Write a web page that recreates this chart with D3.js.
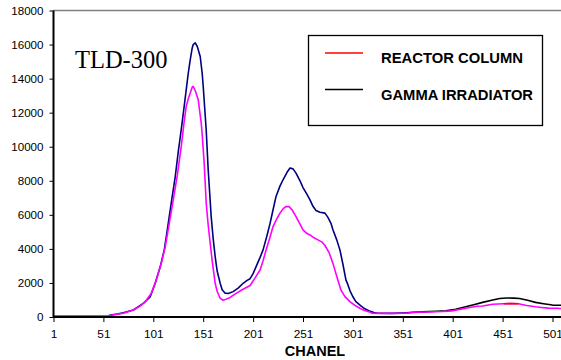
<!DOCTYPE html>
<html>
<head>
  <meta charset="utf-8">
  <script src="https://d3js.org/d3.v7.min.js"></script>
  <style>
    body { margin: 0; background: #fff; }
    svg { display: block; }
    .tick text { font-family: "Liberation Sans", Arial, sans-serif; fill: #000; }
  </style>
</head>
<body>
  <div id="chart"></div>
<script>

  // values (channel -> counts)
  var gammaChannels = [1, 56, 58, 65, 71, 81, 91, 98, 103, 108, 112, 115, 119, 123, 126, 129, 132, 134, 136, 138, 140, 141, 143, 145, 148, 150, 151, 154, 156, 159, 161, 163, 165, 168, 170, 173, 176, 178, 181, 186, 191, 195, 198, 201, 204, 208, 211, 215, 218, 221, 224, 228, 231, 235, 238, 241, 244, 248, 251, 255, 258, 261, 264, 268, 273, 276, 279, 281, 285, 288, 291, 294, 296, 298, 301, 304, 309, 313, 317, 322, 326, 340, 355, 361, 370, 385, 394, 404, 414, 422, 431, 440, 448, 455, 462, 468, 476, 484, 492, 501, 510];
  var gammaCounts = [60, 60, 120, 180, 250, 410, 800, 1200, 2000, 2960, 3940, 5100, 6700, 8250, 9700, 11000, 12400, 13350, 14300, 15100, 15800, 16000, 16100, 15900, 15300, 14300, 13550, 11000, 8650, 5900, 4600, 3550, 2700, 1980, 1600, 1400, 1380, 1420, 1490, 1700, 1980, 2150, 2250, 2550, 2960, 3500, 3940, 4800, 5500, 6300, 7080, 7700, 8060, 8500, 8750, 8700, 8450, 8000, 7600, 7200, 6880, 6500, 6250, 6150, 6100, 5850, 5500, 5120, 4500, 3940, 3100, 2180, 1900, 1550, 1190, 900, 650, 480, 370, 260, 220, 210, 240, 280, 300, 340, 370, 460, 600, 720, 860, 980, 1090, 1120, 1110, 1090, 980, 860, 780, 700, 690];

  var reactorChannels = [1, 56, 60, 65, 71, 81, 88, 93, 99, 104, 109, 113, 117, 121, 125, 129, 132, 134, 136, 138, 140, 141, 143, 146, 149, 150, 152, 154, 156, 158, 160, 163, 165, 168, 171, 174, 178, 184, 190, 198, 203, 208, 211, 214, 218, 221, 225, 228, 231, 234, 237, 240, 244, 248, 251, 255, 258, 262, 266, 270, 273, 277, 281, 285, 289, 293, 298, 303, 308, 312, 317, 320, 330, 355, 361, 375, 391, 400, 414, 425, 431, 441, 452, 460, 467, 475, 484, 490, 497, 505, 510];
  var reactorCounts = [60, 60, 110, 160, 220, 410, 650, 900, 1390, 2180, 3160, 4140, 5500, 6880, 8300, 10000, 11500, 12370, 12800, 13160, 13500, 13550, 13300, 12760, 11400, 10700, 9040, 6690, 5400, 4340, 3300, 1980, 1500, 1100, 980, 1050, 1150, 1390, 1600, 1850, 2300, 2760, 3300, 3940, 4700, 5310, 5800, 6100, 6350, 6490, 6480, 6300, 5900, 5450, 5120, 4900, 4820, 4650, 4530, 4400, 4200, 3800, 3150, 2350, 1590, 1200, 900, 680, 510, 400, 310, 230, 210, 220, 270, 290, 320, 360, 510, 630, 650, 750, 780, 790, 780, 680, 600, 560, 520, 510, 500];

  var xTickLabels = [1, 51, 101, 151, 201, 251, 301, 351, 401, 451, 501];
  var yTicks = [0, 2000, 4000, 6000, 8000, 10000, 12000, 14000, 16000, 18000];
  var seriesNames = ["REACTOR COLUMN", "GAMMA IRRADIATOR"];

  var gamma = gammaChannels.map(function(c, i) { return { c: c, v: gammaCounts[i] }; });
  var reactor = reactorChannels.map(function(c, i) { return { c: c, v: reactorCounts[i] }; });

  var W = 561, H = 360;
  var svg = d3.select("#chart").append("svg")
      .attr("width", W).attr("height", H);

  var x = d3.scaleLinear().domain([1, 501]).range([53.5, 552.5]);
  var y = d3.scaleLinear().domain([0, 18000]).range([317, 10.5]);

  svg.append("clipPath").attr("id", "plot")
    .append("rect").attr("x", 53).attr("y", 0).attr("width", W - 53).attr("height", 318);

  // top border of plot area
  svg.append("line")
      .attr("x1", x(1)).attr("x2", W)
      .attr("y1", y(18000)).attr("y2", y(18000))
      .attr("stroke", "#808080").attr("stroke-width", 1.5);

  var line = d3.line()
      .x(function(d) { return x(d.c); })
      .y(function(d) { return y(d.v); });

  var lines = svg.append("g").attr("clip-path", "url(#plot)")
      .attr("fill", "none").attr("stroke-width", 1.6).attr("stroke-linejoin", "round");

  function part(data, a, b) {
    return data.filter(function(d) { return d.c >= a && d.c <= b; });
  }

  // gamma: navy, black in the tail
  lines.append("path").datum(part(gamma, 56, 355)).attr("stroke", "#000080").attr("d", line);
  lines.append("path").datum(part(gamma, 355, 510)).attr("stroke", "#000000").attr("d", line);
  // reactor: magenta, red at start and around the last peak
  lines.append("path").datum(part(reactor, 56, 510)).attr("stroke", "#ff00ff").attr("d", line);
  lines.append("path").datum(part(reactor, 452, 467)).attr("stroke", "#ff0000").attr("d", line);
  lines.append("path").datum(part(reactor, 1, 56)).attr("stroke", "#ff0000").attr("d", line);

  // axes
  var yAxis = svg.append("g")
      .attr("transform", "translate(" + x(1) + ",0)")
      .call(d3.axisLeft(y).tickValues(yTicks).tickSize(4).tickPadding(6).tickFormat(d3.format("d")));
  yAxis.selectAll("text").style("font-size", "11.6px");

  var xAxis = svg.append("g")
      .attr("transform", "translate(0," + y(0) + ")")
      .call(d3.axisBottom(x).tickValues(xTickLabels).tickSize(5).tickPadding(8).tickFormat(d3.format("d")));
  xAxis.selectAll("text").style("font-size", "11.8px");
  xAxis.select(".domain").remove();
  xAxis.append("line").attr("x1", x(1)).attr("x2", W).attr("stroke", "#000").attr("stroke-width", 2);

  yAxis.select(".domain").remove();
  yAxis.append("line").attr("y1", y(18000)).attr("y2", y(0) + 1).attr("stroke", "#000").attr("stroke-width", 2);

  svg.append("text")
      .attr("x", 315).attr("y", 356)
      .attr("text-anchor", "middle")
      .style("font-family", "'Liberation Sans', Arial, sans-serif")
      .style("font-weight", "bold").style("font-size", "14.5px")
      .text("CHANEL");

  svg.append("text")
      .attr("x", 75).attr("y", 68)
      .style("font-family", "'Liberation Serif', 'Times New Roman', serif")
      .style("font-size", "24.5px")
      .text("TLD-300");

  // legend
  var lg = svg.append("g");
  lg.append("rect")
      .attr("x", 308.5).attr("y", 35.5).attr("width", 234).attr("height", 90)
      .attr("fill", "#fff").attr("stroke", "#000").attr("stroke-width", 1.3);
  var legendColors = ["#ff0000", "#000000"];
  var legendWidths = [142, 152];
  seriesNames.forEach(function(name, i) {
    var ly = 53 + i * 36.5;
    lg.append("line")
        .attr("x1", 325).attr("x2", 363).attr("y1", ly).attr("y2", ly)
        .attr("stroke", legendColors[i]).attr("stroke-width", 1.6);
    lg.append("text")
        .attr("x", 381).attr("y", ly + 10)
        .attr("textLength", legendWidths[i]).attr("lengthAdjust", "spacingAndGlyphs")
        .style("font-family", "'Liberation Sans', Arial, sans-serif")
        .style("font-weight", "bold").style("font-size", "14px")
        .text(name);
  });

</script>
</body>
</html>
